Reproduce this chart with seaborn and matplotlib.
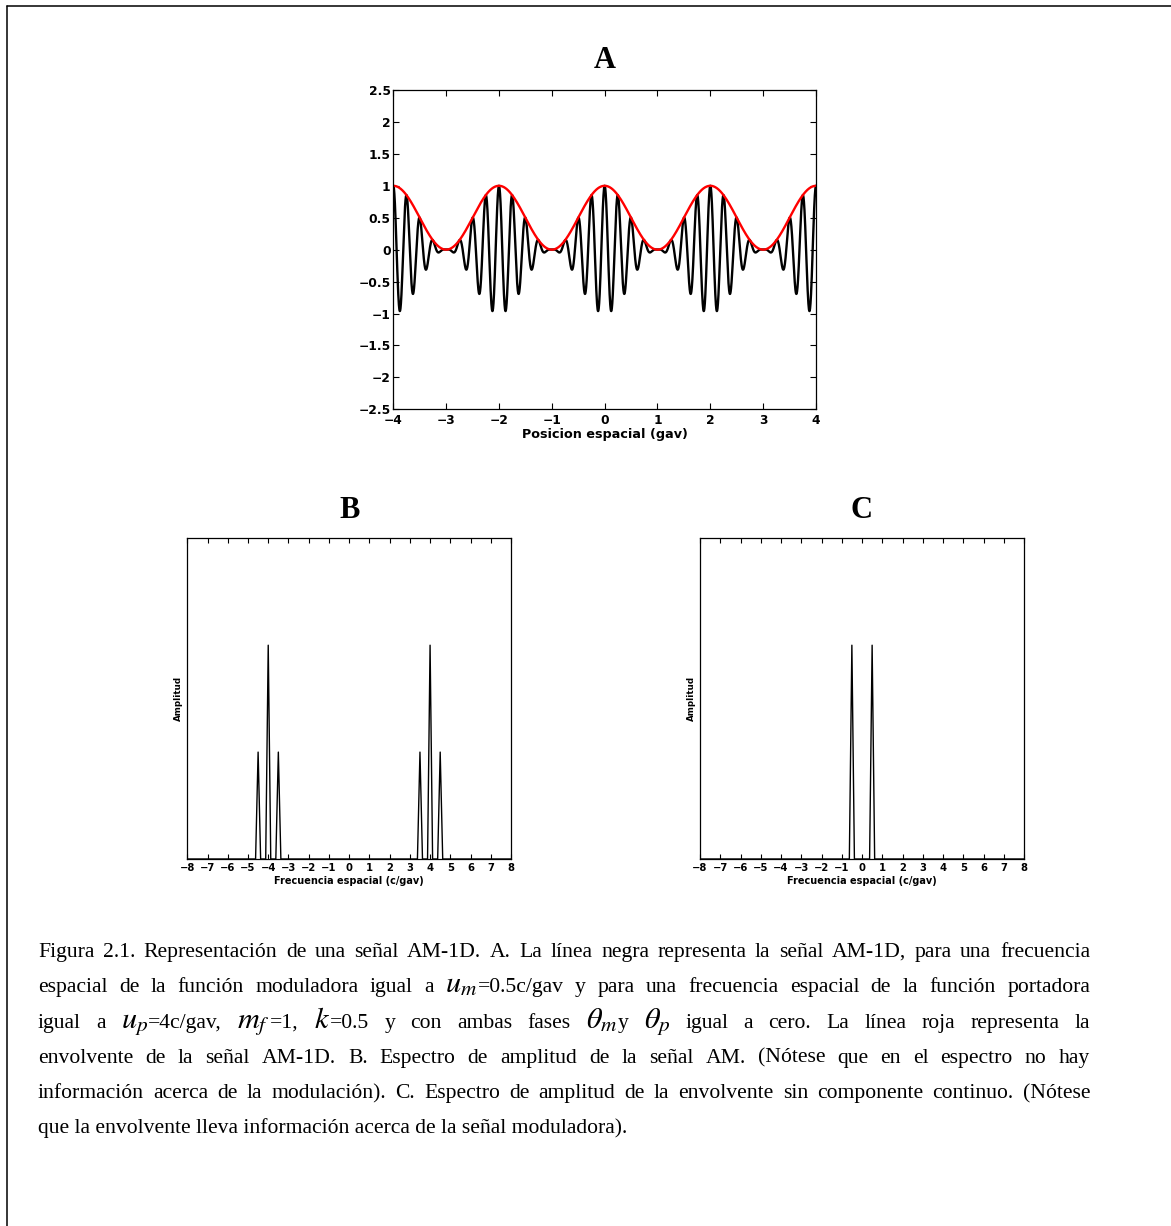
import re
import numpy as np
import pandas as pd
import matplotlib
matplotlib.use("Agg")
import matplotlib.pyplot as plt
from matplotlib.lines import Line2D
import seaborn as sns

# ---------------- data ----------------
# AM-1D signal parameters (read from the caption)
u_m = 0.5        # modulating spatial frequency (c/gav)
u_p = 4.0        # carrier spatial frequency (c/gav)
m_f = 1.0        # modulation factor
k = 0.5          # amplitude constant
theta_m = 0.0    # modulating phase
theta_p = 0.0    # carrier phase
x_range = [-4.0, 4.0]

# amplitude spectra (frequency resolution 0.125 c/gav)
freq_step = 0.125
freq_range = [-8.0, 8.0]
b_peak_freqs = [-4.5, -4.0, -3.5, 3.5, 4.0, 4.5]
b_peak_amps = [0.125, 0.25, 0.125, 0.125, 0.25, 0.125]
c_peak_freqs = [-0.5, 0.5]
c_peak_amps = [0.25, 0.25]

# ticks
a_xticks = [-4, -3, -2, -1, 0, 1, 2, 3, 4]
a_yticks = [-2.5, -2, -1.5, -1, -0.5, 0, 0.5, 1, 1.5, 2, 2.5]
a_yticklabels = ["\u22122.5", "\u22122", "\u22121.5", "\u22121", "\u22120.5", "0",
                 "0.5", "1", "1.5", "2", "2.5"]
f_ticks = list(range(-8, 9))

titles = ["A", "B", "C"]
a_xlabel = "Posicion espacial (gav)"
f_xlabel = "Frecuencia espacial (c/gav)"
f_ylabel = "Amplitud"

caption_lines = [
    "Figura 2.1. Representación de una señal AM-1D. A. La línea negra representa la señal AM-1D, para una frecuencia",
    "espacial de la función moduladora igual a $u_m$=0.5c/gav y para una frecuencia espacial de la función portadora",
    r"igual a $u_p$=4c/gav, $m_f$=1, $k$=0.5 y con ambas fases $\theta_m$y $\theta_p$ igual a cero. La línea roja representa la",
    "envolvente de la señal AM-1D. B. Espectro de amplitud de la señal AM. (Nótese que en el espectro no hay",
    "información acerca de la modulación). C. Espectro de amplitud de la envolvente sin componente continuo. (Nótese",
    "que la envolvente lleva información acerca de la señal moduladora).",
]
caption_justify = [True, True, True, True, True, False]

# ---------------- derived series ----------------
x = np.linspace(x_range[0], x_range[1], 4001)
envelope = k * (1 + m_f * np.cos(2 * np.pi * u_m * x + theta_m))
signal = envelope * np.cos(2 * np.pi * u_p * x + theta_p)
df_a = pd.DataFrame({"x": x, "signal": signal, "envelope": envelope})

freqs = np.arange(freq_range[0], freq_range[1] + freq_step / 2, freq_step)


def spectrum(peak_f, peak_a):
    amp = np.zeros_like(freqs)
    for f, a in zip(peak_f, peak_a):
        amp[np.isclose(freqs, f)] = a
    return pd.DataFrame({"f": freqs, "amp": amp})


df_b = spectrum(b_peak_freqs, b_peak_amps)
df_c = spectrum(c_peak_freqs, c_peak_amps)

# ---------------- style ----------------
sns.set_theme(style="white")
plt.rcParams["font.family"] = ["DejaVu Sans"]
plt.rcParams["axes.unicode_minus"] = True
for key in ("text.color", "axes.labelcolor", "xtick.color", "ytick.color", "axes.edgecolor"):
    plt.rcParams[key] = "black"

W, H = 1171, 1226
fig = plt.figure(figsize=(W / 100, H / 100), dpi=100)
fig.patch.set_facecolor("white")


def rect(l, t, r, b):
    return [l / W, 1 - b / H, (r - l) / W, (b - t) / H]


ax_a = fig.add_axes(rect(393.3, 90, 816, 409.3))
ax_b = fig.add_axes(rect(187.3, 538.3, 511, 859))
ax_c = fig.add_axes(rect(700, 538.3, 1024, 859))

tick_font = dict(family="DejaVu Sans", weight="bold")
title_font = dict(family="Liberation Serif", weight="bold", size=22, color="black")

# panel A
sns.lineplot(data=df_a, x="x", y="signal", ax=ax_a, color="black", lw=1.7,
             estimator=None, sort=False)
sns.lineplot(data=df_a, x="x", y="envelope", ax=ax_a, color="#ff0000", lw=1.7,
             estimator=None, sort=False)
ax_a.set_xlim(*x_range)
ax_a.set_ylim(-2.5, 2.5)
ax_a.set_xticks(a_xticks)
ax_a.set_xticklabels([str(v).replace("-", "\u2212") for v in a_xticks], **tick_font, size=8.8)
ax_a.set_yticks(a_yticks)
ax_a.set_yticklabels(a_yticklabels, **tick_font, size=8.8)
ax_a.tick_params(axis="x", direction="in", top=True, bottom=True, length=4,
                 width=0.8, pad=3.3, colors="black")
ax_a.tick_params(axis="y", direction="in", left=True, right=True, length=4,
                 width=0.8, pad=2, colors="black")
ax_a.set_xlabel(a_xlabel, family="DejaVu Sans", weight="bold", size=9.2)
ax_a.xaxis.set_label_coords(0.5, -0.060)
ax_a.set_ylabel("")
ax_a.set_title(titles[0], pad=15.6, **title_font)

# panels B and C
for ax, df, ttl in [(ax_b, df_b, titles[1]), (ax_c, df_c, titles[2])]:
    sns.lineplot(data=df, x="f", y="amp", ax=ax, color="black", lw=1.0,
                 estimator=None)
    ax.set_xlim(*freq_range)
    ax.set_ylim(0, 0.375)
    ax.set_xticks(f_ticks)
    ax.set_xticklabels([str(v).replace("-", "\u2212") for v in f_ticks], **tick_font, size=7.2)
    ax.set_yticks([])
    ax.tick_params(axis="x", direction="in", top=True, bottom=True, length=3.5,
                   width=0.8, pad=2.8, colors="black")
    ax.set_xlabel(f_xlabel, family="DejaVu Sans", weight="bold", size=7.0)
    ax.xaxis.set_label_coords(0.5, -0.052)
    ax.set_ylabel(f_ylabel, family="DejaVu Sans", weight="bold", size=6.3)
    ax.yaxis.set_label_coords(-0.013, 0.5)
    ax.set_title(ttl, pad=14.4, **title_font)

for ax in (ax_a, ax_b, ax_c):
    for s in ax.spines.values():
        s.set_visible(True)
        s.set_color("black")
        s.set_linewidth(0.9)

# ---------------- frame (top and left edges) ----------------
fig.add_artist(Line2D([7 / W, 1], [1 - 5.5 / H, 1 - 5.5 / H], transform=fig.transFigure,
                      color="black", lw=1.1))
fig.add_artist(Line2D([7 / W, 7 / W], [0, 1 - 5.5 / H], transform=fig.transFigure,
                      color="black", lw=1.1))

# ---------------- justified caption ----------------
renderer = fig.canvas.get_renderer()


def pieces(word):
    return [p for p in re.split(r"(\$[^$]+\$)", word) if p]


def make_text(s, size, xpx=0, ypx=0):
    is_math = s.startswith("$")
    kw = dict(family="Liberation Serif", size=size * (1.4 if is_math else 1.0),
              va="baseline", ha="left", color="black")
    if is_math:
        kw["math_fontfamily"] = "stix"
    return fig.text(xpx / W, 1 - ypx / H, s, **kw)


def width(s, size):
    t = make_text(s, size)
    w = t.get_window_extent(renderer).width
    t.remove()
    return w


def word_width(word, size):
    return sum(width(p, size) for p in pieces(word))


cap_size = 15.6
left_px, right_px = 38, 1090
base0, line_gap = 957, 35.3
for i, (line, just) in enumerate(zip(caption_lines, caption_justify)):
    y = base0 + i * line_gap
    if not just and "$" not in line:
        make_text(line, cap_size, left_px, y)
        continue
    words = line.split(" ")
    wws = [word_width(w, cap_size) for w in words]
    gap = (right_px - left_px - sum(wws)) / (len(words) - 1)
    xcur = left_px
    for w, ww in zip(words, wws):
        xp = xcur
        for p in pieces(w):
            make_text(p, cap_size, xp, y)
            xp += width(p, cap_size)
        xcur += ww + gap

fig.savefig("out.png", dpi=100, facecolor="white")
